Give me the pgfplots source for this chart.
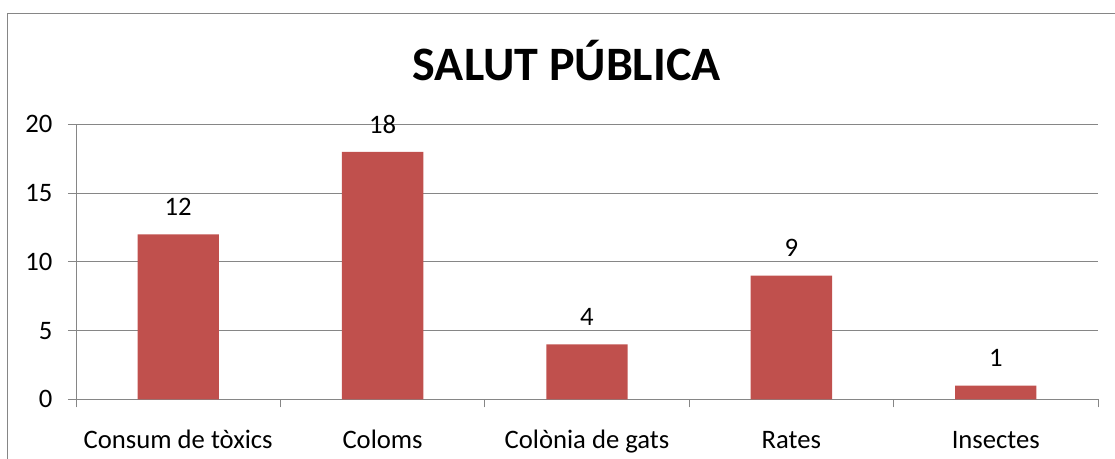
\documentclass[border=0pt]{standalone}
\usepackage{fontspec}
\setmainfont{Carlito}
\usepackage{pgfplots}
\pgfplotsset{compat=1.18}
\definecolor{barred}{HTML}{C0504D}
\definecolor{gridgray}{HTML}{868686}
\begin{document}
\begin{tikzpicture}
\useasboundingbox (0,0) rectangle (836.25pt,-343.5pt);
\clip (0,0) rectangle (836.25pt,-343.5pt);
\draw[gridgray, line width=0.75pt] (5.25pt,-9.75pt) rectangle (844.5pt,-352.5pt);
\node[anchor=base, font=\fontsize{36}{40}\selectfont\bfseries] at (425pt,-60pt) {SALUT PÚBLICA};
\begin{axis}[
  at={(57pt,-299.5pt)}, anchor=south west,
  width=766.5pt, height=206.25pt, scale only axis,
  ymin=0, ymax=20, ytick={0,5,...,20},
  xmin=-0.5, xmax=4.5,
  xtick={0,...,4},
  xticklabels={Consum de tòxics, Coloms, Colònia de gats, Rates, Insectes},
  minor xtick={-0.5,0.5,...,4.5},
  axis lines=left, axis line style={gridgray, line width=0.75pt, -},
  ymajorgrids, grid style={gridgray, line width=0.75pt},
  tick align=outside, major tick length=6pt, minor tick length=6pt,
  tick style={gridgray, line width=0.75pt},
  major x tick style={draw=none},
  tick label style={font=\fontsize{20}{22}\selectfont, text=black},
  /pgf/number format/assume math mode=true,
  yticklabel style={anchor=east, inner sep=0pt, xshift=-11.5pt},
  xticklabel style={anchor=base, inner sep=0pt, yshift=-31pt},
  clip=false,
]
\addplot[ybar, fill=barred, draw=none, bar width=61pt,
  nodes near coords,
  nodes near coords style={font=\fontsize{20}{22}\selectfont, text=black, anchor=base, inner sep=0pt, yshift=14pt}]
  coordinates {(0,12) (1,18) (2,4) (3,9) (4,1)};
\end{axis}
\end{tikzpicture}
\end{document}
